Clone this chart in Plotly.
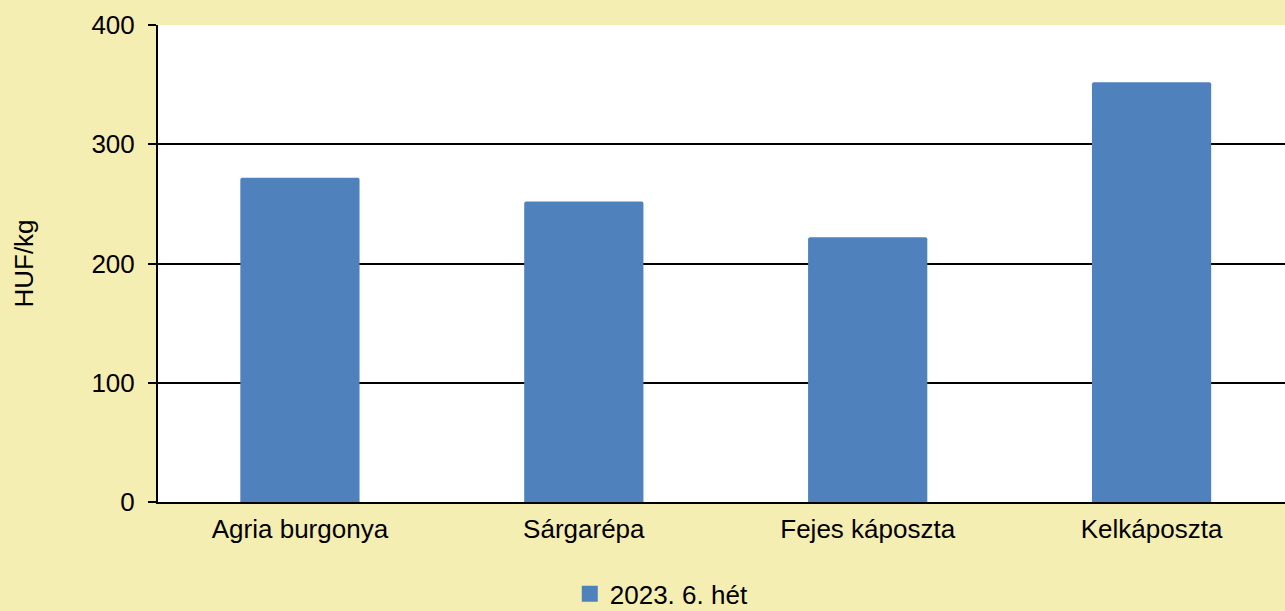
import plotly.graph_objects as go

categories = ["Agria burgonya", "Sárgarépa", "Fejes káposzta", "Kelkáposzta"]
values = [272, 252, 222, 352]
series_name = "2023. 6. hét"
y_ticks = [0, 100, 200, 300, 400]
bar_color = "#4F81BD"

fig = go.Figure()
fig.add_trace(go.Bar(
    x=categories, y=values, name=series_name,
    marker=dict(color=bar_color, line=dict(width=0), cornerradius=2),
    width=0.42, showlegend=False,
))
# legend entry with a larger square swatch
fig.add_trace(go.Scatter(
    x=[None], y=[None], mode="markers", name=series_name,
    marker=dict(symbol="square", size=18, color=bar_color),
    showlegend=True,
))

fig.update_layout(
    width=1285, height=611,
    paper_bgcolor="#F4EEB3", plot_bgcolor="#FFFFFF",
    margin=dict(l=158, r=0, t=25, b=109),
    font=dict(family="Liberation Sans, Arial", size=26, color="#000000"),
    showlegend=True,
    legend=dict(orientation="h", xref="container", yref="container",
                x=0.515, y=0.028, xanchor="center", yanchor="middle",
                font=dict(size=26), bgcolor="rgba(0,0,0,0)",
                itemwidth=30, tracegroupgap=0),
)
fig.update_xaxes(
    range=[-0.5, 3.47], showline=True, linecolor="#000000", linewidth=2,
    ticks="", showgrid=False, tickfont=dict(size=26), ticklabelstandoff=3,
)
fig.update_yaxes(
    range=[0, 400], tickvals=y_ticks, showline=True, linecolor="#000000", linewidth=2,
    ticks="outside", ticklen=8, tickwidth=2, tickcolor="#000000",
    showgrid=True, gridcolor="#000000", gridwidth=2, zeroline=False,
    tickfont=dict(size=26), ticklabelstandoff=8,
    title=dict(text="HUF/kg", font=dict(size=26), standoff=50),
)
fig.write_html("out.html", config={"displayModeBar": False},
               post_script="document.body.style.margin='0';document.body.style.overflow='hidden';")
